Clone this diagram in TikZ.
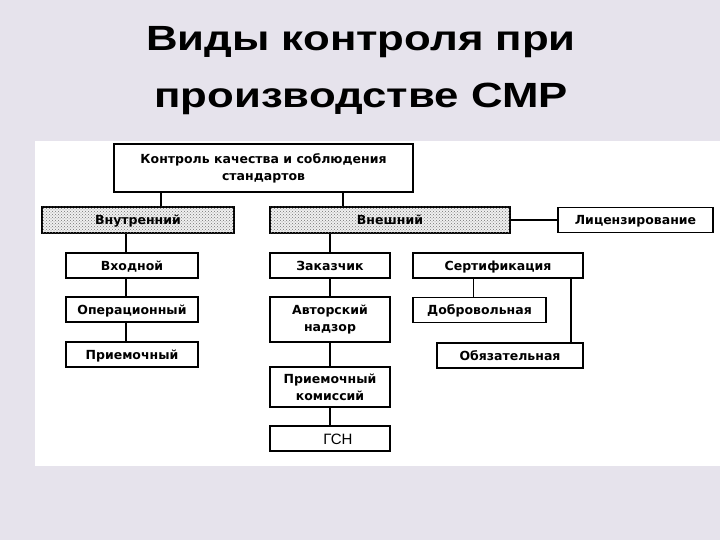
\documentclass[tikz,border=0pt]{standalone}
\usepackage{fontspec}
\setmainfont{Liberation Sans}
\newfontfamily\titlefont{Liberation Sans}[FakeStretch=1.25]
\newfontfamily\boxfont{DejaVu Sans}
\usepackage{tikz}
\usetikzlibrary{
   calc,
   patterns,
   positioning
}
\definecolor{slidebg}{RGB}{230,227,236}

\begin{document}
\begin{tikzpicture}[
    x=1pt, y=-1pt,
    every node/.style={font=\boxfont\bfseries\fontsize{12.5}{17}\selectfont},
    box/.style={rectangle, draw, line width=1.9pt, inner sep=0pt, align=center, minimum height=25pt},
    onebox/.style={box, text height=9.2pt, text depth=0pt},
    dotbox/.style={onebox, fill=black!6, postaction={pattern=crosshatch dots, pattern color=black!55}},
    link/.style={line width=1.9pt},
    title/.style={font=\titlefont\bfseries\fontsize{35}{57}\selectfont, anchor=base, inner sep=0pt}
]

% background and white panel
\fill[slidebg] (0,0) rectangle (720,540);
\fill[white] (35,141) rectangle (720,466);

% title
\node[title] (title1) at (361,51) {Виды контроля при};
\node[title] (title2) at ([yshift=-57pt]title1.base) {производстве СМР};

% main box
\node[box, minimum width=299pt, minimum height=48pt] (kontrol) at (263.5,168) {Контроль качества и соблюдения\\стандартов};

% internal / external
\node[dotbox, minimum width=192pt, minimum height=26pt] (vnutr) at (138,220) {Внутренний};
\node[dotbox, minimum width=240pt, minimum height=26pt] (vnesh) at (390,220) {Внешний};
\node[onebox, minimum width=155pt] (licenz) at (635.5,220) {Лицензирование};

% internal branch
\node[onebox, minimum width=132pt] (vhod) at (132,265.5) {Входной};
\node[onebox, minimum width=132pt] (oper) at (132,309.5) {Операционный};
\node[onebox, minimum width=132pt] (priem) at (132,354.5) {Приемочный};

% external branch
\node[onebox, minimum width=120pt] (zakaz) at (330,265.5) {Заказчик};
\node[box, minimum width=120pt, minimum height=45pt] (avtor) at (330,319.5) {Авторский\\надзор};
\node[box, minimum width=120pt, minimum height=40pt] (komis) at (330,387) {Приемочный\\комиссий};
\node[box, minimum width=120pt, text height=11pt, text depth=0pt,
      font=\rmfamily\fontsize{15}{17}\selectfont] (gsn) at (330,438.5) {\hspace*{16pt}ГСН};

% certification
\node[onebox, minimum width=170pt] (sert) at (498,265.5) {Сертификация};
\node[onebox, minimum width=133pt] (dobr) at (479.5,310) {Добровольная};
\node[onebox, minimum width=146pt] (obyaz) at (510,355.5) {Обязательная};

% connectors
\coordinate (kv1) at ($(kontrol.south west)!.16!(kontrol.south east)$);
\coordinate (kv2) at ($(kontrol.south west)!.763!(kontrol.south east)$);
\draw[link] (kv1) -- (kv1 |- vnutr.north);
\draw[link] (kv2) -- (kv2 |- vnesh.north);
\draw[link] (vnesh.east) -- (licenz.west);

\draw[link] ([xshift=-6pt]vhod.north) -- ([xshift=-6pt]vhod.north |- vnutr.south);
\draw[link] ([xshift=-6pt]vhod.south) -- ([xshift=-6pt]oper.north);
\draw[link] ([xshift=-6pt]oper.south) -- ([xshift=-6pt]priem.north);

\draw[link] (zakaz.north) -- (zakaz.north |- vnesh.south);
\draw[link] (zakaz.south) -- (avtor.north);
\draw[link] (avtor.south) -- (komis.north);
\draw[link] (komis.south) -- (gsn.north);

\draw[link] ([xshift=-6pt]dobr.north) -- ([xshift=-6pt]dobr.north |- sert.south);
\draw[link] ([xshift=-13pt]obyaz.north east) -- ([xshift=-13pt]obyaz.north east |- sert.south);

\end{tikzpicture}
\end{document}
